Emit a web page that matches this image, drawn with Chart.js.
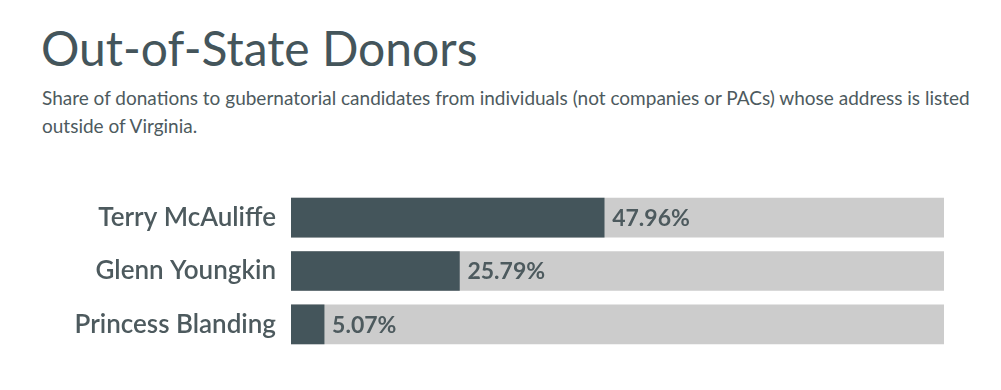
<!DOCTYPE html>
<html>
<head>
<meta charset="utf-8">
<script src="https://cdn.jsdelivr.net/npm/chart.js@4/dist/chart.umd.min.js"></script>
<style>
    body { margin: 0; background: #fff; font-family: Lato, sans-serif; }
    h1 { position: absolute; left: 41px; top: 18px; margin: 0; font-size: 48px; font-weight: 400; color: #44555b; line-height: 60px; }
    p { position: absolute; left: 42px; top: 84px; margin: 0; font-size: 19px; line-height: 28px; color: #4d5a5e; white-space: nowrap; }
    #grafico { position: absolute; left: 0; top: 191px; }
</style>
</head>
<body>
<h1>Out-of-State Donors</h1>
<p>Share of donations to gubernatorial candidates from individuals (not companies or PACs) whose address is listed<br>outside of Virginia.</p>
<canvas id="grafico" width="1001" height="160"></canvas>
<script>
const candidatos = ['Terry McAuliffe', 'Glenn Youngkin', 'Princess Blanding'];
const foraDoEstado = [47.96, 25.79, 5.07];
const total = [100, 100, 100];

const corEscura = '#44555b';
const corClara = '#cccccc';

// escreve o valor logo depois do fim da barra
const rotulos = {
    id: 'rotulos',
    afterDatasetsDraw(grafico) {
        const ctx = grafico.ctx;
        const meta = grafico.getDatasetMeta(0);
        ctx.save();
        ctx.font = 'bold 23px Lato';
        ctx.fillStyle = '#4d5a5e';
        ctx.textBaseline = 'middle';
        meta.data.forEach((barra, i) => {
            ctx.fillText(foraDoEstado[i].toFixed(2) + '%', barra.x + 8, barra.y + 1);
        });
        ctx.restore();
    }
};

new Chart(document.getElementById('grafico'), {
    type: 'bar',
    data: {
        labels: candidatos,
        datasets: [{
            data: foraDoEstado,
            backgroundColor: corEscura,
            barThickness: 39,
            grouped: false,
            order: 1
        }, {
            data: total,
            backgroundColor: corClara,
            barThickness: 39,
            grouped: false,
            order: 2
        }]
    },
    options: {
        indexAxis: 'y',
        responsive: false,
        animation: false,
        layout: { padding: { right: 57 } },
        plugins: { legend: { display: false }, tooltip: { enabled: false } },
        scales: {
            x: { min: 0, max: 100, display: false },
            y: {
                grid: { display: false, drawTicks: false },
                border: { display: false },
                afterFit(escala) {
                    escala.width = 291;
                    escala.paddingTop = 0;
                    escala.paddingBottom = 0;
                },
                ticks: {
                    padding: 15,
                    color: '#4d5a5e',
                    font: { family: 'Lato', size: 26, weight: '600' }
                }
            }
        }
    },
    plugins: [rotulos]
});
</script>
</body>
</html>
